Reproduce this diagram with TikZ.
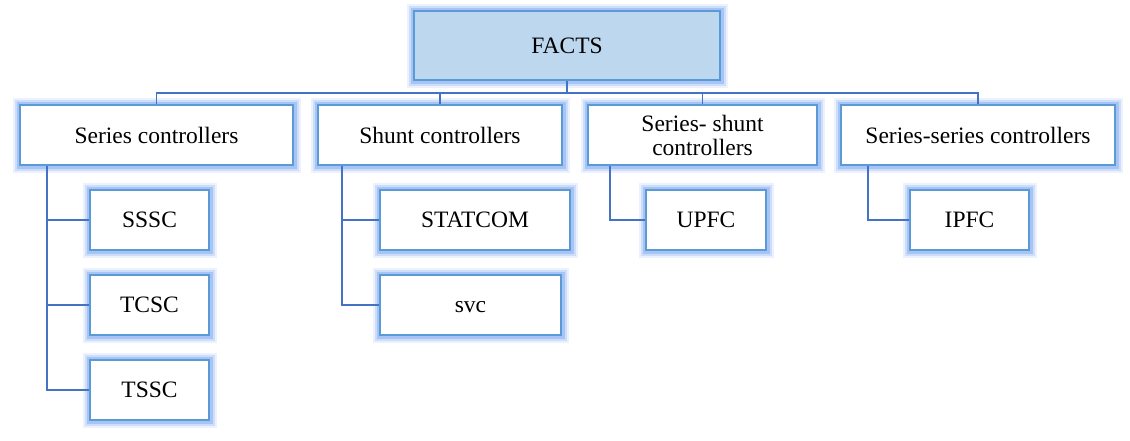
\documentclass[tikz,border=0pt]{standalone}
\usepackage{fontspec}
\setmainfont{Liberation Serif}
\usepackage{xcolor}
\definecolor{boxLine}   {HTML}{5B9BD5}
\definecolor{boxGlow}   {HTML}{7FAAF0}
\definecolor{rootBack}  {HTML}{BDD7EE}
\definecolor{linkBlue}  {HTML}{4472C4}
\usetikzlibrary{positioning}
\tikzset{
    glow/.style={preaction={draw=boxGlow, line width=15pt, opacity=0.15},
                 preaction={draw=boxGlow, line width=11pt, opacity=0.28},
                 preaction={draw=boxGlow, line width=7pt, opacity=0.5}},
    block/.style={rectangle, draw=boxLine, line width=2.5pt, fill=white, glow,
                  minimum height=60pt, inner sep=2pt, align=center,
                  font=\fontsize{23.5}{24}\selectfont},
    root/.style={block, fill=rootBack, minimum height=69pt},
    leaf/.style={block, minimum width=119pt},
    link/.style={draw=linkBlue, line width=1.6pt},
}

\begin{document}
\begin{tikzpicture}[x=1pt, y=1pt, node distance=22.5pt]
    \useasboundingbox (0,0) rectangle (1130,-440);
    % top level
    \node[root, minimum width=306pt] (facts) at (567,-45.5) {FACTS};
    \coordinate (bus) at (567,-93);
    % controller groups
    \node[block, minimum width=273pt] (series)   at (156.5,-135) {Series controllers};
    \node[block, minimum width=244pt] (shunt)    at (440,-135)   {Shunt controllers};
    \node[block, minimum width=229pt] (sershunt) at (702.5,-135) {Series- shunt\\controllers};
    \node[block, minimum width=274pt] (serser)   at (978,-135)   {Series-series controllers};
    % devices
    \node[leaf] (sssc) at (149.5,-220) {SSSC};
    \node[leaf, below=of sssc] (tcsc) {TCSC};
    \node[leaf, below=of tcsc] (tssc) {TSSC};
    \node[block, minimum width=190pt] (statcom) at (475,-220) {STATCOM};
    \node[block, minimum width=181pt] (svc) at (470.5,-305) {\vphantom{S}svc};
    \node[leaf, minimum width=120pt] (upfc) at (706,-220) {UPFC};
    \node[leaf] (ipfc) at (969.5,-220) {IPFC};
    % connectors
    \draw[link] (facts.south) -- (bus);
    \foreach \g in {series, shunt, sershunt, serser}
        \draw[link] (bus) -| (\g.north);
    \foreach \d in {sssc, tcsc, tssc}
        \draw[link] ([xshift=28pt]series.south west) |- (\d.west);
    \foreach \d in {statcom, svc}
        \draw[link] ([xshift=25pt]shunt.south west) |- (\d.west);
    \draw[link] ([xshift=23pt]sershunt.south west) |- (upfc.west);
    \draw[link] ([xshift=28pt]serser.south west) |- (ipfc.west);
\end{tikzpicture}
\end{document}
